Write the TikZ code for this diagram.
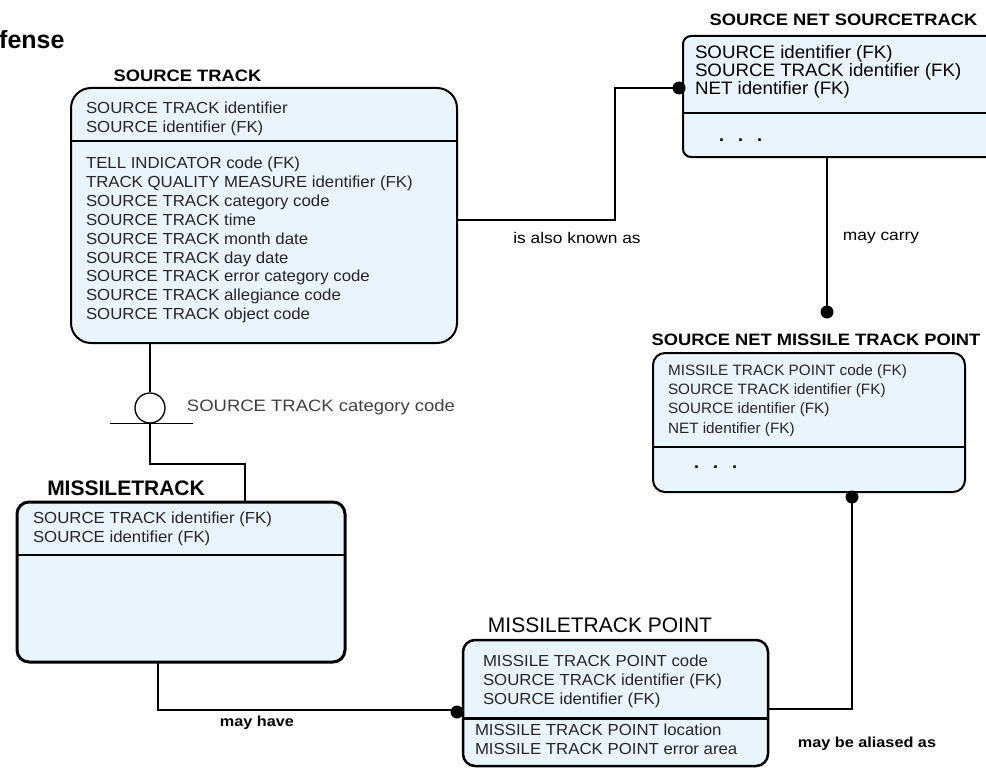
\documentclass[tikz,border=0pt]{standalone}
\usepackage{fontspec}
\setmainfont{Liberation Sans}
\newfontfamily\bxf[FakeStretch=1.05]{Liberation Sans}
\newfontfamily\bxg[FakeStretch=1.02]{Liberation Sans}
\newfontfamily\bxn[FakeStretch=1.04]{Liberation Sans}
\newfontfamily\ttlf[FakeStretch=1.11]{Liberation Sans}
\newfontfamily\lblf[FakeStretch=1.12]{Liberation Sans}
\newfontfamily\plainf{Liberation Sans}
\definecolor{entfill}{RGB}{233,244,252}
\begin{document}
\begin{tikzpicture}[x=1pt,y=-1pt,
  ent/.style={draw=black, fill=entfill, line width=2pt, inner sep=0pt, outer sep=0pt, anchor=north west, rounded corners=12pt},
  divline/.style={line width=2pt},
  attr/.style={anchor=north west, inner sep=0pt, outer sep=0pt, align=left, text=black!85, font=\bxf\fontsize{16}{18.9}\selectfont},
  ttl/.style={inner sep=0pt, font=\ttlf\bfseries\fontsize{16.5}{18}\selectfont},
  lbl/.style={inner sep=0pt, font=\lblf\fontsize{15.5}{17}\selectfont},
  conn/.style={line width=2.8pt},
  connthin/.style={line width=1.4pt},
  connmid/.style={line width=2pt},
  blob/.style={circle, fill=black, inner sep=0pt, minimum size=13pt},
  dots/.style={inner sep=0pt, anchor=west, font=\plainf\bfseries\fontsize{18}{20}\selectfont}
]
\useasboundingbox (0,0) rectangle (986,768);

% ---------- entities ----------
\node[ent, rounded corners=20pt, minimum width=386pt, minimum height=255pt] (st) at (71,88) {};
\draw[divline] ([yshift=-53pt]st.north west) -- ([yshift=-53pt]st.north east);
\node[attr] (st1) at (86,102) {SOURCE TRACK identifier\\SOURCE identifier (FK)};
\node[attr] (st2) at (86,157) {TELL INDICATOR code (FK)\\TRACK QUALITY MEASURE identifier (FK)\\SOURCE TRACK category code\\SOURCE TRACK time\\SOURCE TRACK month date\\SOURCE TRACK day date\\SOURCE TRACK error category code\\SOURCE TRACK allegiance code\\SOURCE TRACK object code};
\node[ttl] (stt) at (187.5,76) {SOURCE TRACK};

\node[ent, rounded corners=8pt, minimum width=330pt, minimum height=121pt] (nsst) at (683,36) {};
\draw[divline] ([yshift=-77pt]nsst.north west) -- ([yshift=-77pt]nsst.north east);
\node[attr, text=black, font=\bxn\fontsize{18}{18}\selectfont] (nsst1) at (695,45.3) {SOURCE identifier (FK)\\SOURCE TRACK identifier (FK)\\NET identifier (FK)};
\node[dots] (nsstd) at (719,140) {.\hspace{14pt}.\hspace{14pt}.};
\node[ttl] (nsstt) at (843.5,20) {SOURCE NET SOURCETRACK};

\node[ent, minimum width=312pt, minimum height=139pt] (nsmtp) at (653,353) {};
\draw[divline] ([yshift=-94pt]nsmtp.north west) -- ([yshift=-94pt]nsmtp.north east);
\node[attr, font=\bxg\fontsize{15}{19.3}\selectfont] (nsmtp1) at (668,364.4) {MISSILE TRACK POINT code (FK)\\SOURCE TRACK identifier (FK)\\SOURCE identifier (FK)\\NET identifier (FK)};
\node[dots] (nsmtpd) at (694,467) {.\hspace{14pt}.\hspace{14pt}.};
\node[ttl] (nsmtpt) at (816,340) {SOURCE NET MISSILE TRACK POINT};

\node[ent, line width=3pt, minimum width=328pt, minimum height=160pt] (mt) at (17,502) {};
\draw[line width=2.5pt] ([yshift=-53pt]mt.north west) -- ([yshift=-53pt]mt.north east);
\node[attr] (mt1) at (33,512) {SOURCE TRACK identifier (FK)\\SOURCE identifier (FK)};
\node[inner sep=0pt, font=\plainf\bfseries\fontsize{21}{24}\selectfont] (mtt) at (126,488) {MISSILETRACK};

\node[ent, line width=2.5pt, minimum width=305pt, minimum height=126pt] (mtp) at (463,640) {};
\draw[line width=3pt] ([yshift=-78pt]mtp.north west) -- ([yshift=-78pt]mtp.north east);
\node[attr] (mtp1) at (483,655) {MISSILE TRACK POINT code\\SOURCE TRACK identifier (FK)\\SOURCE identifier (FK)};
\node[attr] (mtp2) at (475,724) {MISSILE TRACK POINT location\\MISSILE TRACK POINT error area};
\node[inner sep=0pt, font=\plainf\fontsize{21}{24}\selectfont] (mtpt) at (600,625) {MISSILETRACK POINT};

\node[anchor=west, inner sep=0pt, font=\plainf\bfseries\fontsize{25}{28}\selectfont] (hdr) at (-1,40) {fense};

% ---------- connectors ----------
% SOURCE TRACK -> SOURCE NET SOURCETRACK
\draw[conn] ([yshift=-132pt]st.north east) -- ++(158,0) |- ([yshift=-52pt]nsst.north west);
\node[blob] (b1) at ([xshift=-4pt,yshift=-52pt]nsst.north west) {};
\node[lbl] (l1) at (577,238) {is also known as};

% SOURCE NET SOURCETRACK -> SOURCE NET MISSILE TRACK POINT
\coordinate (c2) at (827,312);
\draw[conn] ([xshift=144pt]nsst.south west) -- (c2);
\node[blob] (b2) at (c2) {};
\node[lbl] (l2) at (881,238) {may carry};

% SOURCE NET MISSILE TRACK POINT -> MISSILE TRACK POINT
\draw[connthin] ([xshift=199pt]nsmtp.south west) |- ([yshift=-69pt]mtp.north east);
\node[blob] (b3) at ([xshift=199pt,yshift=-5pt]nsmtp.south west) {};
\node[lbl, font=\lblf\bfseries\fontsize{14.5}{17}\selectfont] (l3) at (867,744) {may be aliased as};

% MISSILE TRACK -> MISSILE TRACK POINT
\draw[conn] ([xshift=141pt]mt.south west) |- ([yshift=-70pt]mtp.north west);
\node[blob] (b4) at ([xshift=-6pt,yshift=-72pt]mtp.north west) {};
\node[lbl, font=\lblf\bfseries\fontsize{14.5}{17}\selectfont] (l4) at (257,723) {may have};

% SOURCE TRACK -> subtype circle -> MISSILE TRACK
\node[draw, circle, line width=1.3pt, minimum size=30pt, inner sep=0pt] (cc) at (150,408) {};
\draw[connthin] ([xshift=79pt]st.south west) -- (cc.north);
\draw[connthin] ([xshift=-40pt]cc.south) -- ([xshift=43pt]cc.south);
\draw[connmid] (cc.south) -- ++(0,40) -| ([xshift=228pt]mt.north west);
\node[lbl, text=black!75, font=\lblf\fontsize{16.5}{18}\selectfont] (l5) at (321,407) {SOURCE TRACK category code};
\end{tikzpicture}
\end{document}
